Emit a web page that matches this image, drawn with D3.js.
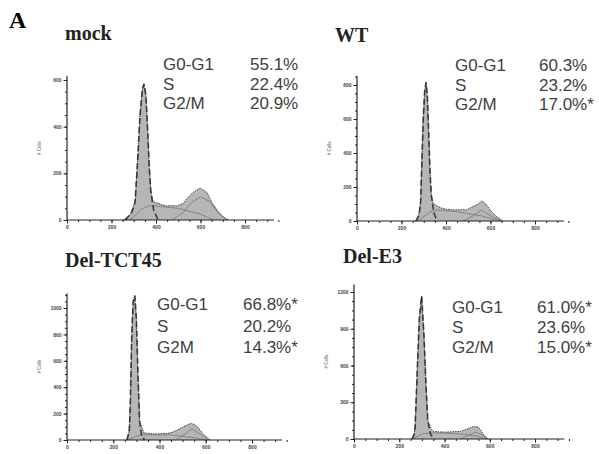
<!DOCTYPE html>
<html>
<head>
<meta charset="utf-8">
<script src="https://cdn.jsdelivr.net/npm/d3@7"></script>
<style>
  body { margin: 0; background: #fff; }
  svg { display: block; }
</style>
</head>
<body>
<div id="chart"></div>
<script>
// cell cycle histograms, four panels
var titles = ["mock", "WT", "Del-TCT45", "Del-E3"];
var phaseNames = [["G0-G1", "S", "G2/M"], ["G0-G1", "S", "G2/M"], ["G0-G1", "S", "G2M"], ["G0-G1", "S", "G2/M"]];
var mockStats = ["55.1%", "22.4%", "20.9%"];
var wtStats = ["60.3%", "23.2%", "17.0%*"];
var tctStats = ["66.8%*", "20.2%", "14.3%*"];
var e3Stats = ["61.0%*", "23.6%", "15.0%*"];

var xTicks = [0, 200, 400, 600, 800];
var mockYTicks = [0, 200, 400, 600];
var wtYTicks = [0, 200, 400, 600, 800];
var tctYTicks = [0, 200, 400, 600, 800, 1000];
var e3YTicks = [0, 300, 600, 900, 1200];

// histogram outline (channel, # cells)
var mockCh = [253, 283, 306, 318, 328, 339, 346, 355, 363, 370, 377, 388, 400, 410, 425, 448, 470, 493, 510, 523, 535, 545, 558, 568, 580, 590, 600, 613, 628, 640, 650, 662, 673, 688, 702, 725];
var mockCount = [0, 21, 77, 263, 447, 562, 583, 532, 374, 221, 119, 77, 74, 72, 66, 60, 62, 60, 66, 72, 86, 98, 110, 119, 126, 132, 136, 128, 119, 98, 77, 60, 43, 28, 13, 0];
var wtCh = [261, 276, 286, 292, 298, 304, 310, 316, 322, 328, 334, 343, 355, 365, 385, 403, 425, 448, 470, 493, 510, 530, 545, 560, 570, 580, 598, 610, 620, 632, 643, 655];
var wtCount = [0, 25, 114, 370, 605, 760, 815, 741, 525, 290, 153, 104, 92, 84, 74, 69, 66, 65, 68, 65, 78, 90, 100, 118, 110, 98, 65, 48, 35, 22, 12, 0];
var tctCh = [257, 268, 274, 280, 286, 293, 300, 306, 314, 325, 332, 360, 390, 410, 433, 455, 477, 495, 513, 525, 538, 550, 564, 575, 586, 597, 607, 619];
var tctCount = [0, 60, 289, 792, 1044, 1094, 920, 543, 138, 90, 55, 48, 45, 50, 49, 58, 75, 92, 108, 118, 126, 118, 101, 75, 50, 32, 18, 0];
var e3Ch = [255, 265, 270, 280, 289, 299, 309, 318, 326, 339, 351, 380, 410, 440, 472, 486, 498, 515, 527, 540, 550, 560, 569, 583, 593];
var e3Count = [0, 30, 88, 580, 990, 1167, 853, 443, 156, 88, 62, 58, 56, 60, 62, 72, 80, 92, 101, 100, 96, 72, 47, 6, 0];

// fitted G1 peak (dashed)
var mockG1Ch = [262, 290, 306, 318, 328, 339, 346, 355, 363, 370, 377, 390, 410];
var mockG1 = [0, 30, 77, 263, 447, 562, 583, 532, 374, 221, 119, 40, 0];
var wtG1Ch = [266, 280, 286, 292, 298, 304, 310, 316, 322, 328, 334, 345, 360];
var wtG1 = [0, 40, 114, 370, 605, 760, 815, 741, 525, 290, 153, 50, 0];
var tctG1Ch = [260, 270, 274, 280, 286, 293, 300, 306, 314, 322, 335];
var tctG1 = [0, 80, 289, 792, 1044, 1094, 920, 543, 138, 40, 0];
var e3G1Ch = [258, 266, 270, 280, 289, 299, 309, 318, 326, 336, 350];
var e3G1 = [0, 40, 88, 580, 990, 1167, 853, 443, 156, 50, 0];

// fitted S phase and G2 (thin lines)
var mockSCh = [283, 340, 380, 500, 600, 660];
var mockS = [0, 50, 62, 50, 25, 0];
var mockG2Ch = [470, 520, 560, 600, 640, 680, 720];
var mockG2 = [0, 30, 75, 100, 80, 30, 0];
var wtSCh = [275, 330, 360, 450, 560, 640];
var wtS = [0, 55, 65, 55, 30, 0];
var wtG2Ch = [480, 520, 560, 600, 650];
var wtG2 = [0, 30, 65, 30, 0];
var tctSCh = [265, 300, 330, 450, 540, 600];
var tctS = [0, 30, 40, 38, 20, 0];
var tctG2Ch = [470, 510, 540, 570, 610];
var tctG2 = [0, 45, 85, 50, 0];
var e3SCh = [260, 300, 340, 450, 540, 590];
var e3S = [0, 40, 50, 45, 25, 0];
var e3G2Ch = [470, 510, 540, 570, 595];
var e3G2 = [0, 35, 55, 30, 0];

var W = 599, H = 454;

var svg = d3.select("#chart").append("svg")
    .attr("width", W)
    .attr("height", H);

svg.append("text")
    .attr("x", 9).attr("y", 28)
    .attr("font-family", "Liberation Serif")
    .attr("font-weight", "bold")
    .attr("font-size", 24)
    .text("A");

var panels = [
  {title: titles[0], names: phaseNames[0], stats: mockStats, yTicks: mockYTicks, ch: mockCh, count: mockCount,
   g1Ch: mockG1Ch, g1: mockG1, sCh: mockSCh, s: mockS, g2Ch: mockG2Ch, g2: mockG2,
   ox: 67, x800: 245, oy: 220, yTickPx: 80, yTop: 617, tx: 65, ty: 40, lx: 163, vx: 250, rows: [70, 90, 109]},
  {title: titles[1], names: phaseNames[1], stats: wtStats, yTicks: wtYTicks, ch: wtCh, count: wtCount,
   g1Ch: wtG1Ch, g1: wtG1, sCh: wtSCh, s: wtS, g2Ch: wtG2Ch, g2: wtG2,
   ox: 357, x800: 535, oy: 221, yTickPx: 85, yTop: 853, tx: 335, ty: 42, lx: 455, vx: 539, rows: [71, 91, 110]},
  {title: titles[2], names: phaseNames[2], stats: tctStats, yTicks: tctYTicks, ch: tctCh, count: tctCount,
   g1Ch: tctG1Ch, g1: tctG1, sCh: tctSCh, s: tctS, g2Ch: tctG2Ch, g2: tctG2,
   ox: 67, x800: 252, oy: 440, yTickPx: 308, yTop: 1110, tx: 65, ty: 267, lx: 157, vx: 243, rows: [310, 332, 353]},
  {title: titles[3], names: phaseNames[3], stats: e3Stats, yTicks: e3YTicks, ch: e3Ch, count: e3Count,
   g1Ch: e3G1Ch, g1: e3G1, sCh: e3SCh, s: e3S, g2Ch: e3G2Ch, g2: e3G2,
   ox: 354, x800: 535, oy: 439, yTickPx: 292, yTop: 1262, tx: 343, ty: 263, lx: 452, vx: 537, rows: [313, 333, 353]}
];

panels.forEach(function(p) {
  var g = svg.append("g");
  var yMaxTick = p.yTicks[p.yTicks.length - 1];
  var x = d3.scaleLinear().domain([0, 800]).range([p.ox, p.x800]);
  var y = d3.scaleLinear().domain([0, yMaxTick]).range([p.oy, p.yTickPx]);

  var pts = p.ch.map(function(c, i) { return [c, p.count[i]]; });

  // filled histogram
  g.append("path")
      .datum(pts)
      .attr("fill", "#b6b6b6")
      .attr("d", d3.area().x(function(d){ return x(d[0]); }).y0(y(0)).y1(function(d){ return y(d[1]); }));

  var line = d3.line().x(function(d){ return x(d[0]); }).y(function(d){ return y(d[1]); });

  // model components
  g.append("path")
      .datum(p.sCh.map(function(c, i){ return [c, p.s[i]]; }))
      .attr("fill", "none").attr("stroke", "#707070").attr("stroke-width", 0.7)
      .attr("d", line);
  g.append("path")
      .datum(p.g2Ch.map(function(c, i){ return [c, p.g2[i]]; }))
      .attr("fill", "none").attr("stroke", "#707070").attr("stroke-width", 0.7)
      .attr("d", line);
  g.append("path")
      .datum(p.g1Ch.map(function(c, i){ return [c, p.g1[i]]; }))
      .attr("fill", "none").attr("stroke", "#404040").attr("stroke-width", 1.6)
      .attr("stroke-dasharray", "6,3")
      .attr("d", line);

  // data outline
  g.append("path")
      .datum(pts)
      .attr("fill", "none").attr("stroke", "#2a2a2a").attr("stroke-width", 0.9)
      .attr("stroke-dasharray", "1.5,1")
      .attr("d", line);

  // axes
  var xMinor = d3.range(0, 951, 50);
  var yStep = p.yTicks[1] / 4;
  var yMinor = d3.range(0, p.yTop + 1, yStep);
  var fmt = d3.format("d");

  g.append("g")
      .attr("transform", "translate(0," + p.oy + ")")
      .call(d3.axisBottom(x).tickValues(xMinor).tickSize(2).tickFormat(""))
      .call(function(a){ a.select(".domain").remove(); a.selectAll("line").attr("stroke", "#222"); });
  g.append("g")
      .attr("transform", "translate(0," + p.oy + ")")
      .call(d3.axisBottom(x).tickValues(xTicks).tickSize(3.5).tickPadding(2).tickFormat(fmt))
      .call(function(a){
        a.select(".domain").remove();
        a.selectAll("line").attr("stroke", "#222");
        a.selectAll("text").attr("font-size", 5).attr("font-weight", "bold")
          .attr("font-family", "Liberation Sans").attr("fill", "#444");
      });
  g.append("line")
      .attr("x1", x(0)).attr("x2", x(930))
      .attr("y1", p.oy).attr("y2", p.oy)
      .attr("stroke", "#222").attr("stroke-width", 1.2);

  g.append("g")
      .attr("transform", "translate(" + p.ox + ",0)")
      .call(d3.axisLeft(y).tickValues(yMinor).tickSize(2).tickFormat(""))
      .call(function(a){ a.select(".domain").remove(); a.selectAll("line").attr("stroke", "#222"); });
  g.append("g")
      .attr("transform", "translate(" + p.ox + ",0)")
      .call(d3.axisLeft(y).tickValues(p.yTicks).tickSize(3.5).tickPadding(2).tickFormat(fmt))
      .call(function(a){
        a.select(".domain").remove();
        a.selectAll("line").attr("stroke", "#222");
        a.selectAll("text").attr("font-size", 5).attr("font-weight", "bold")
          .attr("font-family", "Liberation Sans").attr("fill", "#444");
      });
  g.append("line")
      .attr("x1", p.ox).attr("x2", p.ox)
      .attr("y1", p.oy).attr("y2", y(p.yTop))
      .attr("stroke", "#222").attr("stroke-width", 1.2);

  // y label
  g.append("text")
      .attr("transform", "translate(" + (p.ox - 26) + "," + ((p.oy + y(p.yTop)) / 2) + ") rotate(-90)")
      .attr("text-anchor", "middle")
      .attr("font-family", "Liberation Sans")
      .attr("font-size", 4.5)
      .attr("fill", "#555")
      .text("# Cells");

  // title
  g.append("text")
      .attr("x", p.tx).attr("y", p.ty)
      .attr("font-family", "Liberation Serif")
      .attr("font-weight", "bold")
      .attr("font-size", 20)
      .attr("fill", "#222")
      .text(p.title);

  // phase percentages
  p.names.forEach(function(n, i) {
    g.append("text")
        .attr("x", p.lx).attr("y", p.rows[i])
        .attr("font-family", "Liberation Sans")
        .attr("font-size", 17)
        .attr("fill", "#404040")
        .text(n);
    g.append("text")
        .attr("x", p.vx).attr("y", p.rows[i])
        .attr("font-family", "Liberation Sans")
        .attr("font-size", 17)
        .attr("fill", "#404040")
        .text(p.stats[i]);
  });
});
</script>
</body>
</html>
